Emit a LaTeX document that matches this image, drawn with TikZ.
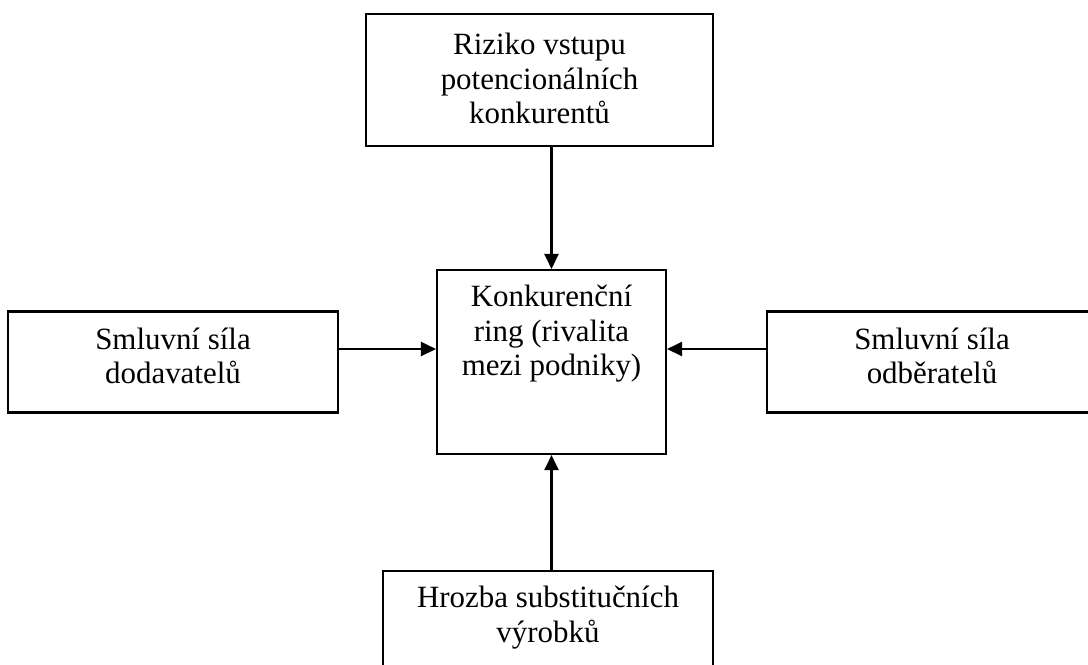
\documentclass[tikz,border=0pt]{standalone}
\usepackage{fontspec}
\setmainfont{Liberation Serif}
\usetikzlibrary{arrows.meta,positioning}

\tikzset{
  box/.style={draw, rectangle, line width=1.2pt, inner sep=0pt},
  boxtext/.style={align=center, inner sep=0pt, font=\fontsize{17.6}{19.6}\selectfont},
  force/.style={line width=1.2pt, -{Triangle[length=0.3cm,width=0.28cm]}}
}

\begin{document}
\begin{tikzpicture}[x=0.02cm, y=-0.02cm]
      \useasboundingbox (0,0) rectangle (1088,664);
      \clip (0,0) rectangle (1088,664);
      \draw
        (539.5,80) node[box, minimum width=6.94cm, minimum height=2.64cm] (entrants){}
        (551.5,362) node[box, minimum width=4.58cm, minimum height=3.68cm] (rivalry){}
        (173,362) node[box, minimum width=6.6cm, minimum height=2.02cm] (suppliers){}
        (932,362) node[box, minimum width=6.6cm, minimum height=2.02cm] (buyers){}
        (548,621.5) node[box, minimum width=6.6cm, minimum height=2.02cm] (substitutes){};
      \node[boxtext, below=0.4cm of entrants.north] (entrantstext) {Riziko vstupu\\potencionálních\\konkurentů};
      \node[boxtext, below=0.32cm of rivalry.north] (rivalrytext) {Konkurenční\\ring (rivalita\\mezi podniky)};
      \node[boxtext, below=0.34cm of suppliers.north] (supplierstext) {Smluvní síla\\dodavatelů};
      \node[boxtext, below=0.34cm of buyers.north] (buyerstext) {Smluvní síla\\odběratelů};
      \node[boxtext, below=0.32cm of substitutes.north] (substitutestext) {Hrozba substitučních\\výrobků};
      \begin{scope}[force]
        \draw (entrants.south -| rivalry.north) to (rivalry.north);
        \draw (substitutes.north -| rivalry.south) to (rivalry.south);
        \draw ([yshift=0.26cm]suppliers.east) to ([yshift=0.26cm]rivalry.west);
        \draw ([yshift=0.26cm]buyers.west) to ([yshift=0.26cm]rivalry.east);
      \end{scope}
    \end{tikzpicture}
\end{document}
